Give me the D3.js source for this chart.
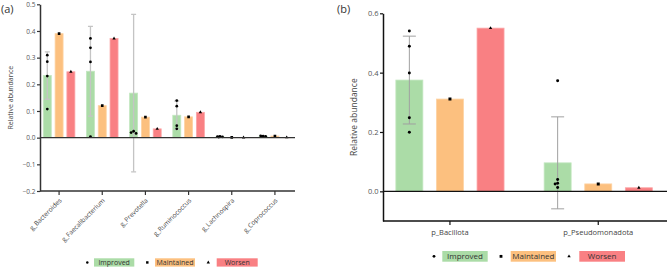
<!DOCTYPE html>
<html><head><meta charset="utf-8">
<script src="https://cdn.jsdelivr.net/npm/d3@7"></script>
<style>body{margin:0;background:#fff;}svg{display:block;font-family:"Open Sans",sans-serif;}</style>
</head><body>
<svg id="c" width="669" height="270"></svg>
<script>
// ---------- DATA ----------
const seriesNames = ["Improved", "Maintained", "Worsen"];

const categoriesA = ["g_Bacteroides", "g_Faecalibacterium", "g_Prevotella", "g_Ruminococcus", "g_Lachnospira", "g_Coprococcus"];
const improvedA = [0.233, 0.249, 0.167, 0.084, 0.0035, 0.0055];
const maintainedA = [0.390, 0.120, 0.077, 0.078, 0.001, 0.006];
const worsenA = [0.247, 0.372, 0.033, 0.095, 0.0005, 0.001];
const improvedSdA = [0.089, 0.168, 0.295, 0.053, 0.0015, 0.0015];
const improvedPointsA = [
  [0.309, 0.285, 0.231, 0.107],
  [0.372, 0.337, 0.284, 0.004],
  [0.61, 0.024, 0.019, 0.016],
  [0.139, 0.118, 0.045, 0.033],
  [0.005, 0.004, 0.003, 0.002],
  [0.006, 0.007, 0.005, 0.004]
];
const yTicksA = [-0.2, -0.1, 0.0, 0.1, 0.2, 0.3, 0.4, 0.5];

const categoriesB = ["p_Bacillota", "p_Pseudomonadota"];
const improvedB = [0.375, 0.096];
const maintainedB = [0.311, 0.025];
const worsenB = [0.550, 0.012];
const improvedSdB = [0.148, 0.155];
const improvedPointsB = [
  [0.54, 0.489, 0.399, 0.248, 0.199],
  [0.373, 0.040, 0.027, 0.025, 0.013]
];
const yTicksB = [0.0, 0.2, 0.4, 0.6];

// ---------- STYLE ----------
const colors = {Improved: "#abdca7", Maintained: "#fcc07f", Worsen: "#f98083"};
const edgeColors = {Improved: "#c3e7c0", Maintained: "#fdd3a4", Worsen: "#fba6a8"};
const symbols = {Improved: d3.symbolCircle, Maintained: d3.symbolSquare, Worsen: d3.symbolTriangle};
const jitterPattern = [0, -2.5, 2.5, -1.2, 1.2, 0];

const svg = d3.select("#c");

function panel(cfg) {
  const g = svg.append("g");
  const y = d3.scaleLinear().domain(cfg.yDomain).range(cfg.yRange);
  const x = d3.scaleBand().domain(cfg.categories).range(cfg.xRange);
  const xs = d3.scalePoint().domain(seriesNames).range([-cfg.sub, cfg.sub]);
  const cx = (c) => x(c) + x.bandwidth() / 2;
  const clipId = "clip" + cfg.id;
  svg.append("clipPath").attr("id", clipId).append("rect")
    .attr("x", cfg.axisX).attr("y", cfg.yRange[1] - 1)
    .attr("width", cfg.axisEnd - cfg.axisX).attr("height", cfg.yRange[0] - cfg.yRange[1] + 1);
  const plot = g.append("g").attr("clip-path", `url(#${clipId})`);

  const valsBySeries = {Improved: cfg.improved, Maintained: cfg.maintained, Worsen: cfg.worsen};
  const rows = [];
  cfg.categories.forEach((c, i) => seriesNames.forEach(s => rows.push({c, i, s, v: valsBySeries[s][i]})));

  // bars
  plot.selectAll("rect.bar").data(rows).join("rect").attr("class", "bar")
    .attr("x", d => cx(d.c) + xs(d.s) - cfg.barW / 2)
    .attr("width", cfg.barW)
    .attr("y", d => Math.min(y(d.v), y(0)))
    .attr("height", d => Math.abs(y(0) - y(d.v)))
    .attr("fill", d => colors[d.s])
    .attr("stroke", d => edgeColors[d.s]).attr("stroke-width", 0.8);

  // zero line
  g.append("line").attr("x1", cfg.axisX).attr("x2", cfg.axisEnd)
    .attr("y1", y(0)).attr("y2", y(0)).attr("stroke", cfg.axisColor).attr("stroke-width", 1.3);

  // error bars (Improved)
  const eb = cfg.categories.map((c, i) => ({c, m: cfg.improved[i], sd: cfg.improvedSd[i]}));
  const ebG = plot.append("g").attr("stroke", cfg.errColor).attr("stroke-width", cfg.errW).attr("fill", "none");
  eb.forEach(d => {
    const xx = cx(d.c) + xs("Improved");
    ebG.append("line").attr("x1", xx).attr("x2", xx).attr("y1", y(d.m + d.sd)).attr("y2", y(d.m - d.sd));
    [d.m + d.sd, d.m - d.sd].forEach(v => ebG.append("line")
      .attr("x1", xx - cfg.cap / 2).attr("x2", xx + cfg.cap / 2).attr("y1", y(v)).attr("y2", y(v)));
  });

  // points
  const pts = [];
  cfg.categories.forEach((c, i) => {
    const placed = [];
    cfg.improvedPoints[i].forEach(v => {
      const py = y(v);
      const n = placed.filter(p => Math.abs(p - py) < 3).length;
      placed.push(py);
      pts.push({c, s: "Improved", v, dx: jitterPattern[n % jitterPattern.length]});
    });
    pts.push({c, s: "Maintained", v: cfg.maintained[i], dx: 0});
    pts.push({c, s: "Worsen", v: cfg.worsen[i], dx: 0});
  });
  plot.selectAll("path.pt").data(pts).join("path").attr("class", "pt")
    .attr("d", d => d3.symbol().type(symbols[d.s]).size(cfg.symSize[d.s])())
    .attr("transform", d => `translate(${cx(d.c) + xs(d.s) + d.dx},${y(d.v)})`)
    .attr("fill", "#000");

  // y axis
  const ya = g.append("g").attr("transform", `translate(${cfg.axisX},0)`)
    .call(d3.axisLeft(y).tickValues(cfg.yTicks).tickFormat(d3.format(".1f")).tickSize(3).tickSizeOuter(0));
  ya.select(".domain").attr("stroke", cfg.axisColor).attr("stroke-width", 1.5);
  ya.selectAll(".tick line").attr("stroke", cfg.axisColor).attr("stroke-width", 1.2);
  ya.selectAll(".tick text").attr("fill", "#555").attr("font-size", cfg.fs).attr("x", -4.5)
    .attr("font-family", "Open Sans, sans-serif");

  // bottom axis
  const yb = cfg.yRange[0];
  g.append("line").attr("x1", cfg.axisX).attr("x2", cfg.axisEnd).attr("y1", yb).attr("y2", yb)
    .attr("stroke", cfg.axisColor).attr("stroke-width", 1.5);
  const xa = g.append("g").attr("transform", `translate(0,${yb})`)
    .call(d3.axisBottom(x).tickSize(4).tickSizeOuter(0));
  xa.select(".domain").remove();
  xa.selectAll(".tick line").attr("stroke", cfg.axisColor).attr("stroke-width", 1.2);
  xa.selectAll(".tick text").attr("fill", "#444").attr("font-size", cfg.fs)
    .attr("font-family", "Open Sans, sans-serif");
  if (cfg.rotate) {
    xa.selectAll(".tick text").attr("text-anchor", "end").attr("dy", 0).attr("y", 0)
      .attr("transform", "translate(3,10) rotate(-45)");
  } else {
    xa.selectAll(".tick text").attr("y", 9);
  }

  // y label
  g.append("text").attr("transform", `translate(${cfg.yLabelX},${(cfg.yRange[0] + cfg.yRange[1]) / 2}) rotate(-90)`)
    .attr("text-anchor", "middle").attr("font-size", cfg.yLabelFs).attr("fill", "#444").text("Relative abundance");

  // panel letter
  g.append("text").attr("x", cfg.letterX).attr("y", 13).attr("font-size", 11).attr("fill", "#333").text(cfg.letter);

  // legend
  const lg = g.append("g");
  seriesNames.forEach((s, k) => {
    const L = cfg.legend[k];
    lg.append("path").attr("d", d3.symbol().type(symbols[s]).size(cfg.legSym[s])())
      .attr("transform", `translate(${L.m},${cfg.legY + cfg.legH / 2})`).attr("fill", "#000");
    lg.append("rect").attr("x", L.x).attr("y", cfg.legY).attr("width", L.w).attr("height", cfg.legH).attr("fill", colors[s]);
    lg.append("text").attr("x", L.x + L.w / 2).attr("y", cfg.legY + cfg.legH / 2).attr("dy", "0.35em")
      .attr("text-anchor", "middle").attr("font-size", cfg.legFs).attr("fill", "#333").text(s);
  });
}

panel({
  id: "a", letter: "(a)", letterX: 1,
  categories: categoriesA, improved: improvedA, maintained: maintainedA, worsen: worsenA,
  improvedSd: improvedSdA, improvedPoints: improvedPointsA, yTicks: yTicksA,
  yDomain: [-0.2, 0.5], yRange: [191, 4.3], xRange: [37.5, 296.5], axisX: 40, axisEnd: 295,
  sub: 11.8, barW: 8, cap: 5, errColor: "#c4c4c4", errW: 1.3, axisColor: "#333",
  symSize: {Improved: 6, Maintained: 7, Worsen: 5}, fs: 6.5, rotate: true,
  yLabelX: 13, yLabelFs: 7,
  legY: 258.3, legH: 8.3, legFs: 7,
  legSym: {Improved: 5, Maintained: 6, Worsen: 5},
  legend: [{m: 87.3, x: 94, w: 40.3}, {m: 147.3, x: 155, w: 40}, {m: 208.3, x: 216.7, w: 41}]
});

panel({
  id: "b", letter: "(b)", letterX: 337,
  categories: categoriesB, improved: improvedB, maintained: maintainedB, worsen: worsenB,
  improvedSd: improvedSdB, improvedPoints: improvedPointsB, yTicks: yTicksB,
  yDomain: [-0.1, 0.6], yRange: [221, 13.3], xRange: [375.8, 672.4], axisX: 383, axisEnd: 667,
  sub: 40.6, barW: 27, cap: 13, errColor: "#a0a0a0", errW: 1, axisColor: "#111",
  symSize: {Improved: 7, Maintained: 9, Worsen: 5}, fs: 7.5, rotate: false,
  yLabelX: 357, yLabelFs: 8.5,
  legY: 251, legH: 10.7, legFs: 8,
  legSym: {Improved: 6, Maintained: 8, Worsen: 5},
  legend: [{m: 434, x: 442.3, w: 45.4}, {m: 501, x: 510.7, w: 45.3}, {m: 569, x: 579.3, w: 45.7}]
});
</script>
</body></html>
